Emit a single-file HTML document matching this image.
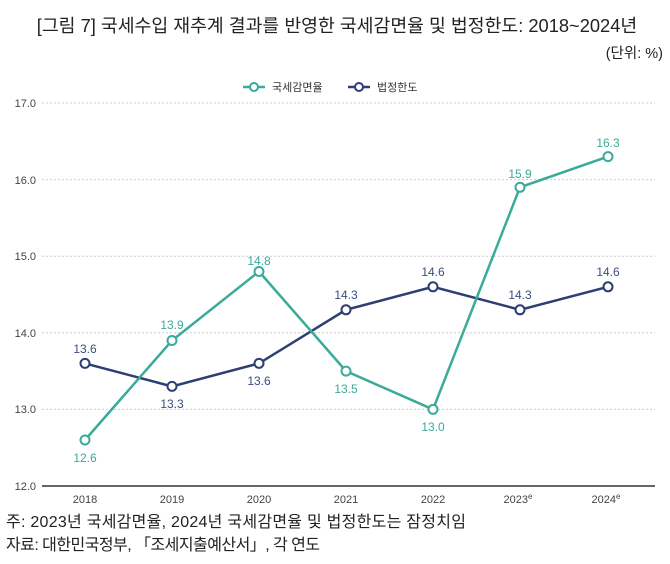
<!DOCTYPE html>
<html><head><meta charset="utf-8"><style>
body{margin:0;background:#fff;width:670px;height:559px;overflow:hidden;font-family:"Liberation Sans","Noto Sans CJK KR",sans-serif}
</style></head><body>
<svg width="670" height="559" xmlns="http://www.w3.org/2000/svg" font-family="Liberation Sans, Noto Sans CJK KR, sans-serif">
<text x="337" y="32" text-anchor="middle" font-size="18.3" fill="#222">[그림 7] 국세수입 재추계 결과를 반영한 국세감면율 및 법정한도: 2018~2024년</text>
<text x="663" y="58" text-anchor="end" font-size="14.5" fill="#222">(단위: %)</text>
<g font-size="11">
<line x1="243" y1="87" x2="265" y2="87" stroke="#3aaa9a" stroke-width="2.5"/><circle cx="254" cy="87" r="4" fill="#fff" stroke="#3aaa9a" stroke-width="2"/>
<text x="272" y="91" fill="#333">국세감면율</text>
<line x1="348" y1="87" x2="370" y2="87" stroke="#2c3e72" stroke-width="2.5"/><circle cx="359" cy="87" r="4" fill="#fff" stroke="#2c3e72" stroke-width="2"/>
<text x="377" y="91" fill="#333">법정한도</text>
</g>
<g stroke="#ccc" stroke-dasharray="2,2" stroke-width="1">
<line x1="42" y1="103" x2="655" y2="103"/><line x1="42" y1="179.6" x2="655" y2="179.6"/><line x1="42" y1="256.2" x2="655" y2="256.2"/><line x1="42" y1="332.8" x2="655" y2="332.8"/><line x1="42" y1="409.4" x2="655" y2="409.4"/>
</g>
<line x1="42" y1="486" x2="655" y2="486" stroke="#333" stroke-width="1.5"/>
<g font-size="11" fill="#444" text-anchor="end">
<text x="36" y="107">17.0</text><text x="36" y="184">16.0</text><text x="36" y="260">15.0</text><text x="36" y="337">14.0</text><text x="36" y="413">13.0</text><text x="36" y="490">12.0</text>
</g>
<g font-size="11" fill="#444" text-anchor="middle">
<text x="85" y="503">2018</text><text x="172" y="503">2019</text><text x="259" y="503">2020</text><text x="346" y="503">2021</text><text x="433" y="503">2022</text><text x="518" y="503">2023<tspan font-size="8" dy="-4">e</tspan></text><text x="606" y="503">2024<tspan font-size="8" dy="-4">e</tspan></text>
</g>
<polyline fill="none" stroke="#2c3e72" stroke-width="2.5" points="85,363.4 172,386.4 259,363.4 346,309.8 433,286.8 520,309.8 608,286.8"/>
<polyline fill="none" stroke="#3aaa9a" stroke-width="2.5" points="85,440 172,340.5 259,271.5 346,371.1 433,409.4 520,187.3 608,156.6"/>
<g fill="#fff" stroke="#2c3e72" stroke-width="2">
<circle cx="85" cy="363.4" r="4.5"/><circle cx="172" cy="386.4" r="4.5"/><circle cx="259" cy="363.4" r="4.5"/><circle cx="346" cy="309.8" r="4.5"/><circle cx="433" cy="286.8" r="4.5"/><circle cx="520" cy="309.8" r="4.5"/><circle cx="608" cy="286.8" r="4.5"/>
</g>
<g fill="#fff" stroke="#3aaa9a" stroke-width="2">
<circle cx="85" cy="440" r="4.5"/><circle cx="172" cy="340.5" r="4.5"/><circle cx="259" cy="271.5" r="4.5"/><circle cx="346" cy="371.1" r="4.5"/><circle cx="433" cy="409.4" r="4.5"/><circle cx="520" cy="187.3" r="4.5"/><circle cx="608" cy="156.6" r="4.5"/>
</g>
<g font-size="12" fill="#3d4c7e" text-anchor="middle">
<text x="85" y="353">13.6</text><text x="172" y="408">13.3</text><text x="259" y="385">13.6</text><text x="346" y="299">14.3</text><text x="433" y="276">14.6</text><text x="520" y="299">14.3</text><text x="608" y="276">14.6</text>
</g>
<g font-size="12" fill="#3aaa9a" text-anchor="middle">
<text x="85" y="462">12.6</text><text x="172" y="329">13.9</text><text x="259" y="265">14.8</text><text x="346" y="393">13.5</text><text x="433" y="431">13.0</text><text x="520" y="178">15.9</text><text x="608" y="147">16.3</text>
</g>
<text x="6" y="527" font-size="16" fill="#222" textLength="460" lengthAdjust="spacing">주: 2023년 국세감면율, 2024년 국세감면율 및 법정한도는 잠정치임</text>
<text x="6" y="550" font-size="16" fill="#222" textLength="314" lengthAdjust="spacing">자료: 대한민국정부, 「조세지출예산서」, 각 연도</text>
</svg>
</body></html>
